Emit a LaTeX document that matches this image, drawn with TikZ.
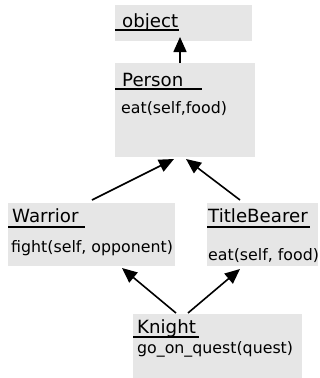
\documentclass[tikz,border=0pt]{standalone}
\usepackage{fontspec}
\setmainfont{DejaVu Sans}
\usetikzlibrary{arrows.meta}
\definecolor{boxgray}{HTML}{E6E6E6}
\begin{document}
\begin{tikzpicture}[x=1pt,y=-1pt,
  umlbox/.style={fill=boxgray, draw=none, anchor=north west, inner sep=0pt, outer sep=0pt},
  ttl/.style={anchor=base west, inner sep=0pt, font=\fontsize{18.2}{20}\selectfont},
  body/.style={anchor=base west, inner sep=0pt, font=\fontsize{15.8}{18}\selectfont},
  uline/.style={line width=1.7pt},
  arr/.style={-{Triangle[length=15pt,width=13pt]}, line width=1.6pt}]
\useasboundingbox (0,0) rectangle (320,378);
% boxes
\node[umlbox, minimum width=137pt, minimum height=36pt] (obj) at (115,5) {};
\node[umlbox, minimum width=140pt, minimum height=94pt] (per) at (115,63) {};
\node[umlbox, minimum width=167pt, minimum height=63pt] (war) at (8,203) {};
\node[umlbox, minimum width=111pt, minimum height=63pt] (tb) at (207,203) {};
\node[umlbox, minimum width=169pt, minimum height=64pt] (kn) at (133,314) {};
% object
\node[ttl] (objT) at (122,27) {object};
\draw[uline] ([yshift=-25pt]obj.north west) -- ++(64,0);
% Person
\node[ttl] (perT) at (122,86) {Person};
\draw[uline] ([yshift=-26pt]per.north west) -- ++(87,0);
\node[body] (perB) at (121,113) {eat(self,food)};
% Warrior
\node[ttl] (warT) at (12,222) {Warrior};
\draw[uline] ([yshift=-24pt]war.north west) -- ++(77,0);
\node[body] (warB) at (11,252) {fight(self, opponent)};
% TitleBearer
\node[ttl] (tbT) at (208,222) {TitleBearer};
\draw[uline] ([yshift=-24pt]tb.north west) -- ++(103,0);
\node[body] (tbB) at (208,260) {eat(self, food)};
% Knight
\node[ttl] (knT) at (137,333) {Knight};
\draw[uline] ([yshift=-23pt]kn.north west) -- ++(66,0);
\node[body] (knB) at (137,353) {go\_on\_quest(quest)};
% connectors
\draw[arr] ([xshift=65pt]per.north west) -- ([xshift=65pt,yshift=4pt]obj.south west);
\draw[arr] ([xshift=84pt,yshift=3pt]war.north west) -- ([xshift=59pt,yshift=-2pt]per.south west);
\draw[arr] ([xshift=33pt,yshift=3pt]tb.north west) -- ([xshift=71pt,yshift=-2pt]per.south west);
\draw[arr] ([xshift=43pt,yshift=1pt]kn.north west) -- ([xshift=114pt,yshift=-2pt]war.south west);
\draw[arr] ([xshift=55pt,yshift=1pt]kn.north west) -- ([xshift=33pt,yshift=-3pt]tb.south west);
\end{tikzpicture}
\end{document}
